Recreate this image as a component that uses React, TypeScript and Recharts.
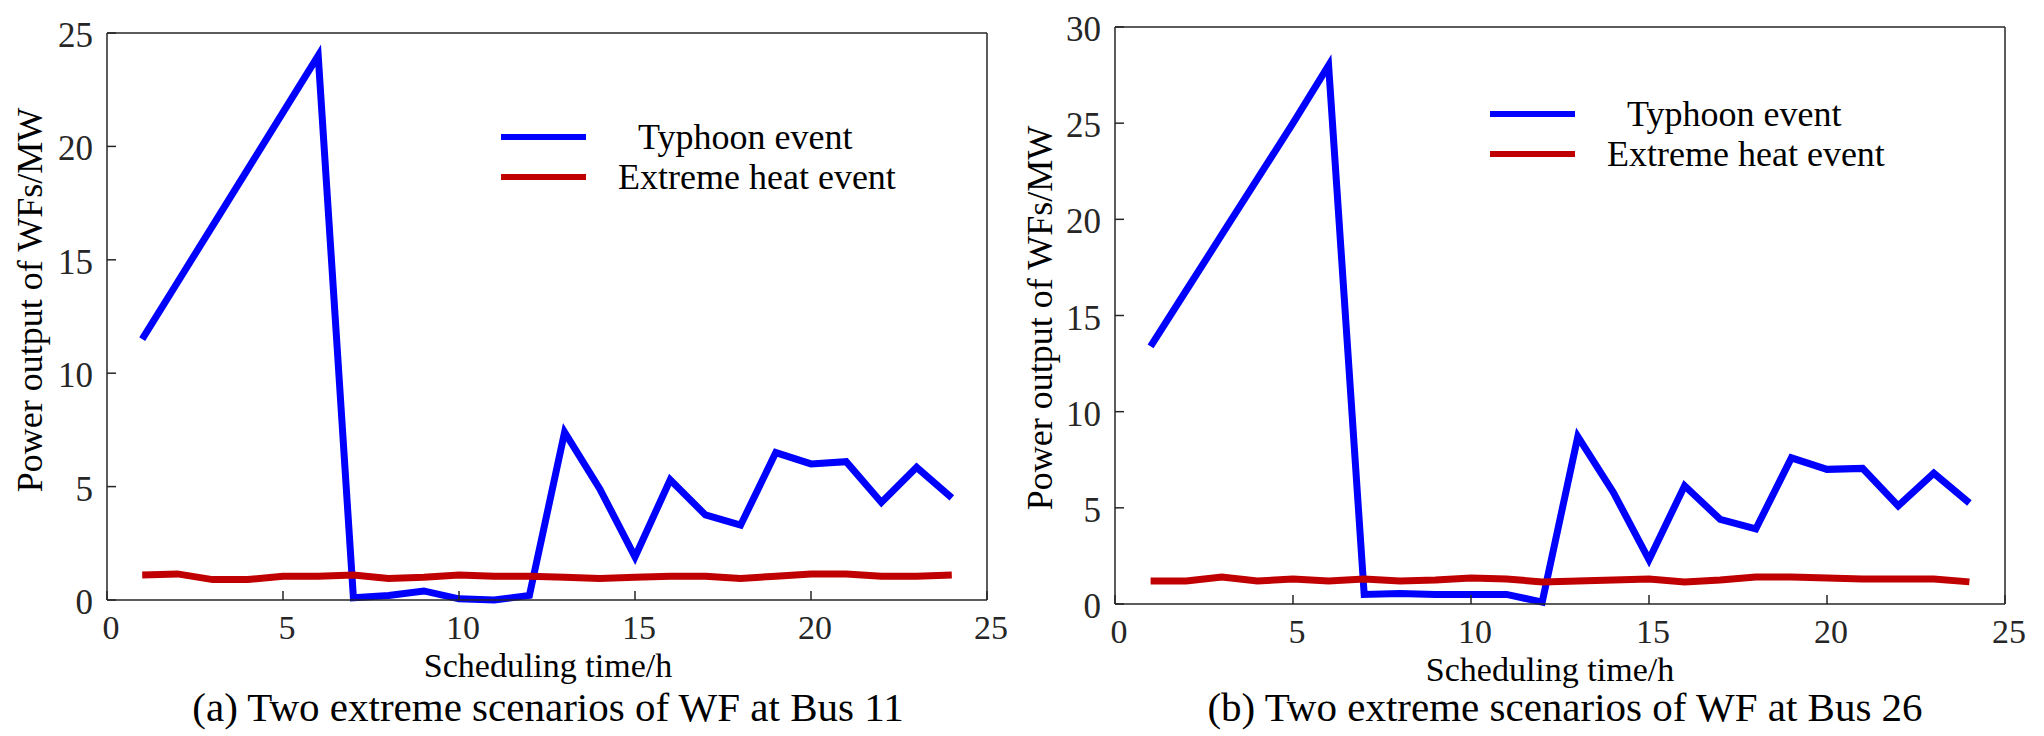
import React from 'react';
import { LineChart, Line, XAxis, YAxis, ReferenceLine, Legend } from 'recharts';

const hours = [1, 2, 3, 4, 5, 6, 7, 8, 9, 10, 11, 12, 13, 14, 15, 16, 17, 18, 19, 20, 21, 22, 23, 24];
const xTicks = [0, 5, 10, 15, 20, 25];
const yTicksA = [0, 5, 10, 15, 20, 25];
const yTicksB = [0, 5, 10, 15, 20, 25, 30];

const typhoonA = [11.5, 14, 16.5, 19, 21.5, 24, 0.1, 0.2, 0.4, 0.05, 0, 0.2, 7.4, 4.9, 1.9, 5.3, 3.75, 3.3, 6.5, 6.0, 6.1, 4.3, 5.85, 4.5];
const heatA = [1.1, 1.15, 0.9, 0.9, 1.05, 1.05, 1.1, 0.95, 1.0, 1.1, 1.05, 1.05, 1.0, 0.95, 1.0, 1.05, 1.05, 0.95, 1.05, 1.15, 1.15, 1.05, 1.05, 1.1];
const typhoonB = [13.4, 16.3, 19.2, 22.1, 25.0, 28, 0.5, 0.55, 0.5, 0.5, 0.5, 0.1, 8.7, 5.8, 2.3, 6.15, 4.4, 3.9, 7.6, 7.0, 7.05, 5.1, 6.8, 5.25];
const heatB = [1.2, 1.2, 1.4, 1.2, 1.3, 1.2, 1.3, 1.2, 1.25, 1.35, 1.3, 1.15, 1.2, 1.25, 1.3, 1.15, 1.25, 1.4, 1.4, 1.35, 1.3, 1.3, 1.3, 1.15];

const seriesNames = ['Typhoon event', 'Extreme heat event'];
const xAxisTitle = 'Scheduling time/h';
const yAxisTitle = 'Power output of WFs/MW';
const captions = ['(a) Two extreme scenarios of WF at Bus 11', '(b) Two extreme scenarios of WF at Bus 26'];

const FONT = '"Liberation Serif", "Times New Roman", serif';
const AXIS = '#262626';
const BLUE = '#0000FF';
const RED = '#C00000';

function buildRows(t: number[], h: number[]) {
  return hours.map((hr, i) => ({ hour: hr, typhoon: t[i], heat: h[i] }));
}

const XTick = (props: any) => {
  const { x, y, payload } = props;
  return (
    <g>
      <line x1={x} x2={x} y1={y} y2={y - 9} stroke={AXIS} strokeWidth={1.5} />
      <text x={x + 4} y={y + 39} textAnchor="middle" fontFamily={FONT} fontSize={34} fill={AXIS}>
        {payload.value}
      </text>
    </g>
  );
};

const YTick = (props: any) => {
  const { x, y, payload } = props;
  return (
    <g>
      <line x1={x} x2={x + 9} y1={y} y2={y} stroke={AXIS} strokeWidth={1.5} />
      <text x={x - 14} y={y + 14} textAnchor="end" fontFamily={FONT} fontSize={35} fill={AXIS}>
        {payload.value}
      </text>
    </g>
  );
};

const LegendBox = (props: any) => {
  const items = props.payload || [];
  const ordered = seriesNames
    .map((n) => items.find((it: any) => it.value === n))
    .filter(Boolean);
  const textX = [143, 123];
  return (
    <svg width={430} height={100} style={{ overflow: 'visible' }}>
      {ordered.map((it: any, i: number) => (
        <g key={i}>
          <line x1={6} x2={91} y1={27 + i * 40} y2={27 + i * 40} stroke={it.color} strokeWidth={6} />
          <text x={textX[i]} y={39 + i * 40} fontFamily={FONT} fontSize={36} fill="#000">
            {it.value}
          </text>
        </g>
      ))}
    </svg>
  );
};

type PanelProps = {
  width: number;
  typhoon: number[];
  heat: number[];
  yMax: number;
  yTicks: number[];
  margin: { top: number; right: number; bottom: number; left: number };
  yLabel: { x: number; y: number };
  xLabel: { x: number; y: number };
  caption: string;
  captionPos: { x: number; y: number };
  legendPos: { left: number; top: number };
};

const Panel = (p: PanelProps) => {
  const rows = buildRows(p.typhoon, p.heat);
  return (
    <LineChart width={p.width} height={736} data={rows} margin={p.margin}>
      <XAxis
        dataKey="hour"
        type="number"
        domain={[0, 25]}
        ticks={xTicks}
        height={40}
        tickSize={0}
        tickMargin={0}
        tickLine={false}
        axisLine={{ stroke: AXIS, strokeWidth: 1.5 }}
        tick={<XTick />}
        interval={0}
        label={() => (
          <g>
            <text x={p.xLabel.x} y={p.xLabel.y} textAnchor="middle" fontFamily={FONT} fontSize={34} fill="#000">
              {xAxisTitle}
            </text>
            <text x={p.captionPos.x} y={p.captionPos.y} textAnchor="middle" fontFamily={FONT} fontSize={41} fill="#000">
              {p.caption}
            </text>
          </g>
        )}
      />
      <YAxis
        type="number"
        domain={[0, p.yMax]}
        ticks={p.yTicks}
        width={60}
        tickSize={0}
        tickMargin={0}
        tickLine={false}
        axisLine={{ stroke: AXIS, strokeWidth: 1.5 }}
        tick={<YTick />}
        interval={0}
        label={() => (
          <text
            x={p.yLabel.x}
            y={p.yLabel.y}
            textAnchor="middle"
            transform={`rotate(-90, ${p.yLabel.x}, ${p.yLabel.y})`}
            fontFamily={FONT}
            fontSize={36}
            fill="#000"
          >
            {yAxisTitle}
          </text>
        )}
      />
      <ReferenceLine y={p.yMax} stroke={AXIS} strokeWidth={1.5} />
      <ReferenceLine x={25} stroke={AXIS} strokeWidth={1.5} />
      <Legend
        layout="vertical"
        align="center"
        verticalAlign="middle"
        content={<LegendBox />}
        wrapperStyle={{ left: p.legendPos.left, top: p.legendPos.top, width: 430, height: 100 }}
      />
      <Line
        type="linear"
        dataKey="typhoon"
        name={seriesNames[0]}
        stroke={BLUE}
        strokeWidth={7}
        dot={false}
        isAnimationActive={false}
      />
      <Line
        type="linear"
        dataKey="heat"
        name={seriesNames[1]}
        stroke={RED}
        strokeWidth={7}
        dot={false}
        isAnimationActive={false}
      />
    </LineChart>
  );
};

export default function App() {
  return (
    <div style={{ position: 'absolute', left: 0, top: 0, width: 2044, height: 736, background: '#fff' }}>
      <div style={{ position: 'absolute', left: 0, top: 0, width: 1022, height: 736 }}>
        <Panel
          width={1022}
          typhoon={typhoonA}
          heat={heatA}
          yMax={25}
          yTicks={yTicksA}
          margin={{ top: 33, right: 35, bottom: 96, left: 47 }}
          yLabel={{ x: 42, y: 300 }}
          xLabel={{ x: 548, y: 677 }}
          caption={captions[0]}
          captionPos={{ x: 548, y: 721 }}
          legendPos={{ left: 495, top: 110 }}
        />
      </div>
      <div style={{ position: 'absolute', left: 1000, top: 0, width: 1044, height: 736 }}>
        <Panel
          width={1044}
          typhoon={typhoonB}
          heat={heatB}
          yMax={30}
          yTicks={yTicksB}
          margin={{ top: 27, right: 39, bottom: 92, left: 55 }}
          yLabel={{ x: 52, y: 318 }}
          xLabel={{ x: 550, y: 681 }}
          caption={captions[1]}
          captionPos={{ x: 565, y: 721 }}
          legendPos={{ left: 484, top: 87 }}
        />
      </div>
    </div>
  );
}
